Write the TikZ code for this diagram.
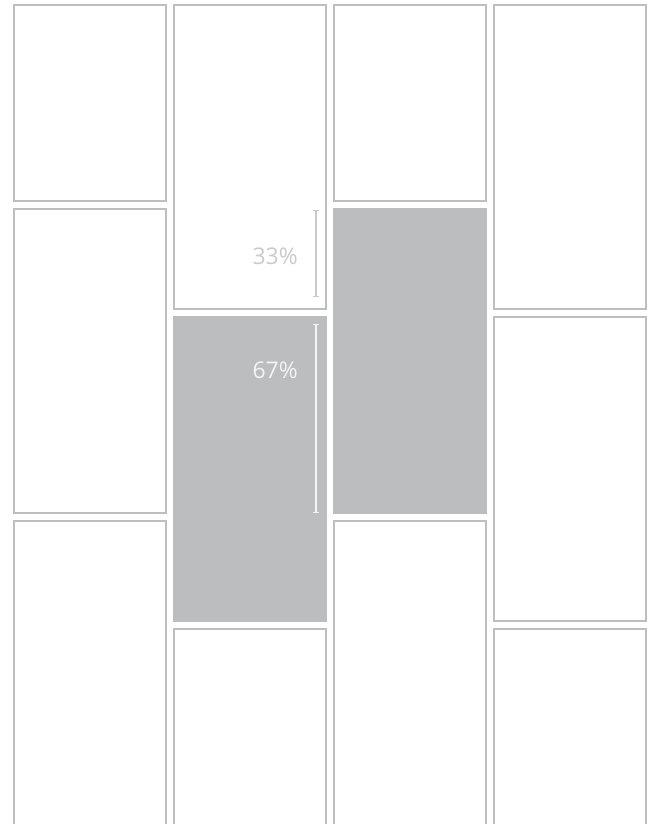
\documentclass[tikz,border=0pt]{standalone}
\usepackage{fontspec}
\setmainfont{Open Sans}
\usetikzlibrary{positioning, arrows.meta}
\usepackage{xcolor}
\definecolor{tileline}{RGB}{190,190,190}
\definecolor{tilefill}{RGB}{188,189,191}
\definecolor{lightlabel}{RGB}{202,202,202}
\definecolor{darklabel}{RGB}{244,244,244}
\tikzset{
  tile/.style={draw=tileline, line width=2.4pt, rectangle, inner sep=0pt, minimum width=152pt, minimum height=304pt},
  shorttile/.style={tile, minimum height=196pt},
  filledtile/.style={tile, draw=tilefill, fill=tilefill},
  pct/.style={anchor=east, inner sep=0pt, font=\fontsize{23}{27}\selectfont},
  span/.style={line width=1.4pt, {Bar[width=6pt]}-{Bar[width=6pt]}}
}

\begin{document}
\begin{tikzpicture}[x=1pt, y=-1pt]
  \useasboundingbox (0,0) rectangle (656,825);
  \clip (0,0) rectangle (656,823);

  % column 1
  \node[shorttile] (a1) at (90,103) {};
  \node[tile] (a2) at (90,361) {};
  \node[tile] (a3) at (90,673) {};
  % column 2
  \node[tile] (b1) at (250,157) {};
  \node[filledtile] (b2) at (250,469) {};
  \node[tile] (b3) at (250,781) {};
  % column 3
  \node[shorttile] (c1) at (410,103) {};
  \node[filledtile] (c2) at (410,361) {};
  \node[tile] (c3) at (410,673) {};
  % column 4
  \node[tile] (d1) at (570,157) {};
  \node[tile] (d2) at (570,469) {};
  \node[tile] (d3) at (570,781) {};

  % offsets
  \coordinate (top33) at (316,210);
  \coordinate (bot33) at (316,297);
  \coordinate (top67) at (316,324);
  \coordinate (bot67) at (316,513);
  \draw[span, draw=lightlabel] (top33) -- (bot33);
  \draw[span, draw=darklabel] (top67) -- (bot67);

  \node[pct, text=lightlabel] (lab33) at (298,256) {33\%};
  \node[pct, text=darklabel] (lab67) at (298,370) {67\%};
\end{tikzpicture}
\end{document}
